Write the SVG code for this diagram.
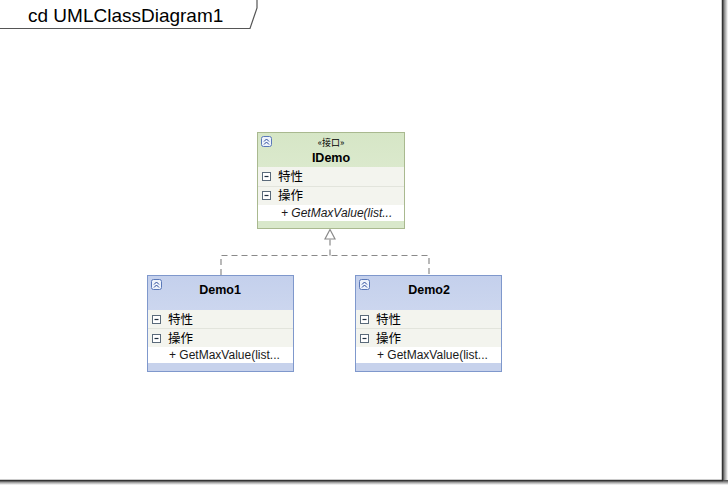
<svg xmlns="http://www.w3.org/2000/svg" width="728" height="485" viewBox="0 0 728 485">
<defs>
<style>
.t{font-family:"Liberation Sans",Arial,"Noto Sans CJK SC",sans-serif;fill:#000}
.cjk{font-family:"Noto Sans CJK SC","Liberation Sans",sans-serif;font-size:12.5px;fill:#000}
.op{font-family:"Liberation Sans",Arial,sans-serif;font-size:12px;fill:#1a1a1a}
.row{fill:#f3f4ee}
.sep{stroke:#e2e4dc;stroke-width:1}
.conn{fill:none;stroke:#8a8a8a;stroke-width:1.2;stroke-dasharray:6,4}
</style>
<linearGradient id="gG" x1="0" y1="0" x2="0" y2="1"><stop offset="0" stop-color="#d6e6c6"/><stop offset="1" stop-color="#e3eed8"/></linearGradient>
<linearGradient id="gB" x1="0" y1="0" x2="0" y2="1"><stop offset="0" stop-color="#c4d0ec"/><stop offset="1" stop-color="#dae1f3"/></linearGradient>
<linearGradient id="shR" x1="0" y1="0" x2="1" y2="0"><stop offset="0" stop-color="#444"/><stop offset="1" stop-color="#fff"/></linearGradient>
<linearGradient id="shB" x1="0" y1="0" x2="0" y2="1"><stop offset="0" stop-color="#444"/><stop offset="1" stop-color="#fff"/></linearGradient>
<g id="minus"><rect x="0" y="0" width="8" height="8" fill="#fff" stroke="#5a6a7a" stroke-width="1"/><line x1="2" y1="4" x2="6" y2="4" stroke="#203040" stroke-width="1.2"/></g>
<g id="colG"><rect x="0" y="0" width="10" height="10" rx="2" fill="#eef3fb" stroke="#5a78b8" stroke-width="1"/><path d="M2.5 5 L5 2.5 L7.5 5 M2.5 8 L5 5.5 L7.5 8" fill="none" stroke="#2a4a9a" stroke-width="1"/></g>
</defs>
<rect width="728" height="485" fill="#fff"/>
<!-- frame -->
<g id="frame">
<rect x="722" y="0" width="6" height="482" fill="url(#shR)"/>
<rect x="0" y="480" width="728" height="5" fill="url(#shB)"/>
<line x1="722.5" y1="0" x2="722.5" y2="481" stroke="#333" stroke-width="1.5"/>
<line x1="0" y1="480.5" x2="723" y2="480.5" stroke="#333" stroke-width="1.5"/>
<path d="M0 28.5 H250 L257 8 L257 0" fill="none" stroke="#555" stroke-width="1.2"/>
<text class="t" x="28" y="22" font-size="19">cd UMLClassDiagram1</text>
</g>
<!-- connectors -->
<g id="connectors">
<path class="conn" d="M221 275 V255.5 H429 V275"/>
<path class="conn" d="M330 255.5 V239"/>
<path d="M330 229.5 L335 239 L325 239 Z" fill="#fff" stroke="#8a8a8a" stroke-width="1.2"/>
</g>
<!-- IDemo -->
<g id="IDemo">
<rect x="257.5" y="132.5" width="147" height="96" fill="url(#gG)" stroke="#a9b98f"/>
<rect x="258" y="167" width="146" height="38" class="row"/>
<line x1="258" y1="186.5" x2="404" y2="186.5" class="sep"/>
<rect x="258" y="205" width="146" height="16" fill="#fff"/>
<rect x="258" y="221" width="146" height="7" fill="#d9e8cb"/>
<use href="#colG" x="261.5" y="136.5"/>
<text class="cjk" x="331" y="146" text-anchor="middle" style="font-size:9px">«接口»</text>
<text class="t" x="331" y="162" font-size="12.5" font-weight="bold" text-anchor="middle">IDemo</text>
<use href="#minus" x="262.5" y="172.5"/>
<text class="cjk" x="278" y="181">特性</text>
<use href="#minus" x="262.5" y="191.5"/>
<text class="cjk" x="278" y="200">操作</text>
<text class="op" x="281" y="217" font-style="italic">+ GetMaxValue(list...</text>
</g>
<!-- Demo1 -->
<g id="Demo1">
<rect x="147.5" y="275.5" width="146" height="96" fill="url(#gB)" stroke="#7f98cc"/>
<rect x="148" y="310" width="145" height="37" class="row"/>
<line x1="148" y1="328.5" x2="293" y2="328.5" class="sep"/>
<rect x="148" y="347" width="145" height="16" fill="#fff"/>
<rect x="148" y="363" width="145" height="8" fill="#c7d2ec"/>
<use href="#colG" x="151.5" y="279.5"/>
<text class="t" x="220" y="294" font-size="12.5" font-weight="bold" text-anchor="middle">Demo1</text>
<use href="#minus" x="152.5" y="315.5"/>
<text class="cjk" x="168" y="324">特性</text>
<use href="#minus" x="152.5" y="334.5"/>
<text class="cjk" x="168" y="343">操作</text>
<text class="op" x="169" y="359">+ GetMaxValue(list...</text>
</g>
<!-- Demo2 -->
<g id="Demo2">
<rect x="355.5" y="275.5" width="146" height="96" fill="url(#gB)" stroke="#7f98cc"/>
<rect x="356" y="310" width="145" height="37" class="row"/>
<line x1="356" y1="328.5" x2="501" y2="328.5" class="sep"/>
<rect x="356" y="347" width="145" height="16" fill="#fff"/>
<rect x="356" y="363" width="145" height="8" fill="#c7d2ec"/>
<use href="#colG" x="359.5" y="279.5"/>
<text class="t" x="429" y="294" font-size="12.5" font-weight="bold" text-anchor="middle">Demo2</text>
<use href="#minus" x="360.5" y="315.5"/>
<text class="cjk" x="376" y="324">特性</text>
<use href="#minus" x="360.5" y="334.5"/>
<text class="cjk" x="376" y="343">操作</text>
<text class="op" x="377" y="359">+ GetMaxValue(list...</text>
</g>
</svg>
